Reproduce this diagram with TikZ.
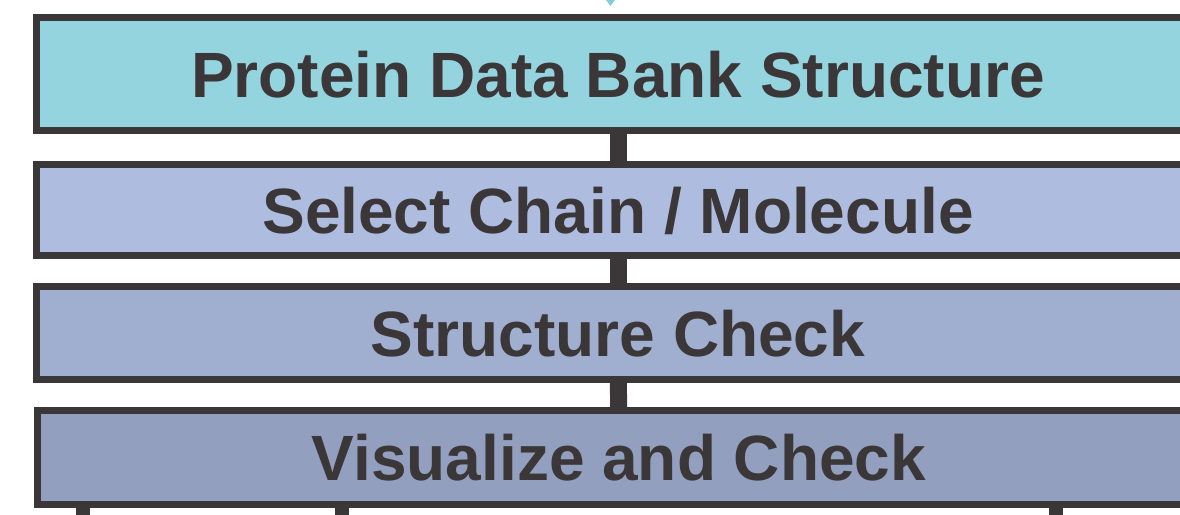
\documentclass[tikz,border=0pt]{standalone}
\usepackage{fontspec}
\setmainfont{Liberation Sans}
\definecolor{edgec}{HTML}{3B3638}
\definecolor{pdbc}{HTML}{94D4DE}
\definecolor{chainc}{HTML}{AEBCDF}
\definecolor{checkc}{HTML}{A0AECF}
\definecolor{visc}{HTML}{939FBE}
\definecolor{tipc}{HTML}{86CCD8}
\begin{document}
\begin{tikzpicture}[x=1pt, y=-1pt,
  stage/.style={draw=edgec, line width=7pt, rectangle, minimum width=1163pt,
    text=edgec, font=\bfseries\fontsize{64}{76}\selectfont,
    text height=46pt, text depth=0pt, inner sep=0pt},
  link/.style={draw=edgec, line width=17pt}]
\clip (0,0) rectangle (1180,514);

\node[stage, fill=pdbc, minimum height=113pt] (pdb) at (618,74) {Protein Data Bank Structure};
\node[stage, fill=chainc, minimum height=91pt] (chain) at (618,210) {Select Chain / Molecule};
\node[stage, fill=checkc, minimum height=93pt] (check) at (618,333) {Structure Check};
\node[stage, fill=visc, minimum height=94pt] (vis) at (619,457.5) {Visualize and Check};

\draw[link] (pdb) -- (chain);
\draw[link] (chain) -- (check);
\draw[link] (check) -- (vis);

% branches leaving the picture
\coordinate (b1) at (83,530);
\coordinate (b2) at (342,530);
\coordinate (b3) at (1056,530);
\draw[edgec, line width=14pt] (vis.south -| b1) -- (b1);
\draw[edgec, line width=14pt] (vis.south -| b2) -- (b2);
\draw[edgec, line width=14pt] (vis.south -| b3) -- (b3);

% arrow tip from above
\coordinate (tip) at (610.5,6);
\fill[tipc] (606,0) -- (615,0) -- (tip) -- cycle;
\end{tikzpicture}
\end{document}
